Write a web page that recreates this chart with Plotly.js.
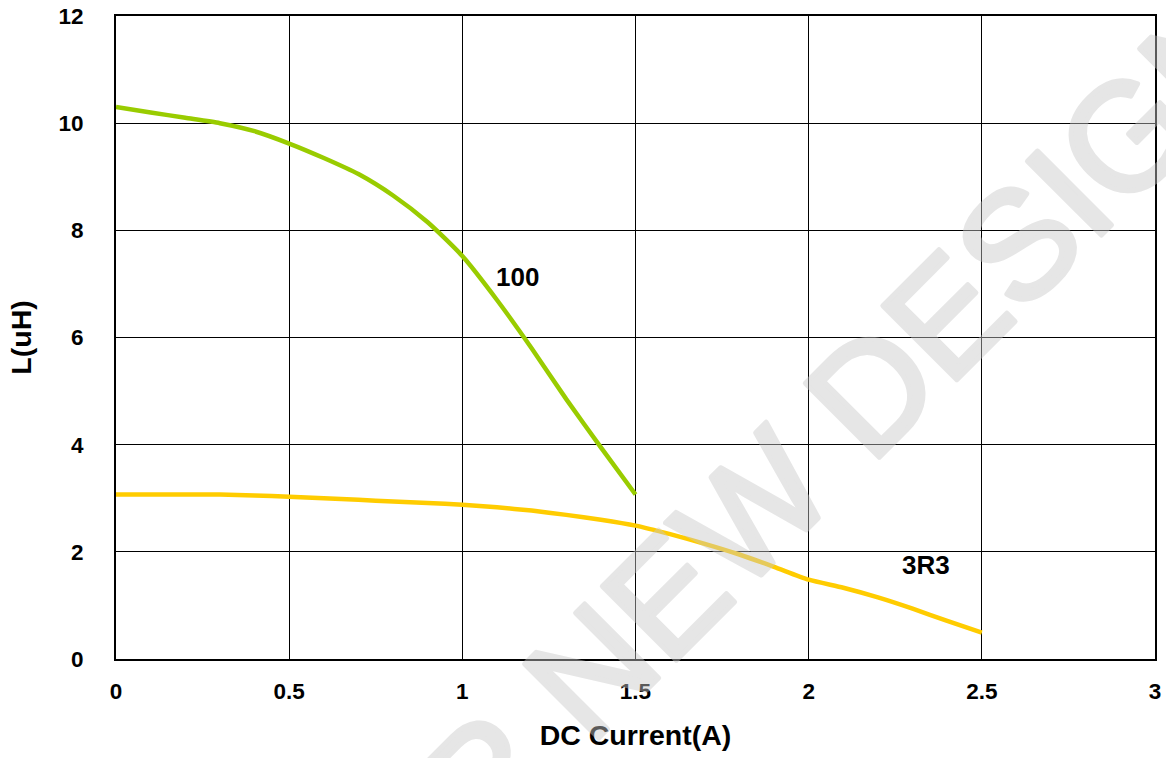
<!DOCTYPE html>
<html>
<head>
<meta charset="utf-8">
<script src="https://cdn.plot.ly/plotly-3.0.1.min.js"></script>
<style>
html,body{margin:0;padding:0;background:#fff;}
#chart{width:1166px;height:758px;}
#chart g.annotation[data-index="2"] text{stroke:#c8c8c8;stroke-width:5px;stroke-linejoin:round;stroke-linecap:round;}
</style>
</head>
<body>
<div id="chart"></div>
<script>
// Data
const current100 = [0, 0.1, 0.2, 0.3, 0.4, 0.5, 0.6, 0.7, 0.8, 0.9, 1.0, 1.1, 1.2, 1.3, 1.4, 1.5];
const induct100  = [10.30, 10.20, 10.10, 10.00, 9.85, 9.62, 9.35, 9.05, 8.65, 8.15, 7.52, 6.70, 5.80, 4.85, 3.95, 3.07];

const current3R3 = [0, 0.1, 0.2, 0.3, 0.4, 0.5, 0.6, 0.7, 0.8, 0.9, 1.0, 1.1, 1.2, 1.3, 1.4, 1.5, 1.6, 1.7, 1.8, 1.9, 2.0, 2.1, 2.2, 2.3, 2.4, 2.5];
const induct3R3  = [3.07, 3.07, 3.07, 3.07, 3.05, 3.03, 3.00, 2.97, 2.94, 2.91, 2.88, 2.83, 2.77, 2.69, 2.60, 2.49, 2.33, 2.15, 1.95, 1.72, 1.48, 1.33, 1.15, 0.94, 0.71, 0.49];

const seriesNames = ["100", "3R3"];
const xTickVals = [0, 0.5, 1, 1.5, 2, 2.5, 3];
const xTickText = ["0", "0.5", "1", "1.5", "2", "2.5", "3"];
const yTickVals = [0, 2, 4, 6, 8, 10, 12];
const yTickText = ["0", "2", "4", "6", "8", "10", "12"];
const xTitle = "DC Current(A)";
const yTitle = "L(uH)";
const watermarkText = "FOR NEW DESIGN";

const FONT = "Liberation Sans, Arial, Helvetica, sans-serif";

const traces = [
  {x: current100, y: induct100, name: seriesNames[0], mode: "lines",
   line: {color: "#99cc00", width: 4.5, shape: "spline", smoothing: 0.6}},
  {x: current3R3, y: induct3R3, name: seriesNames[1], mode: "lines",
   line: {color: "#ffcc00", width: 4.5, shape: "spline", smoothing: 0.6}}
];

const layout = {
  width: 1166, height: 758,
  margin: {l: 116, r: 11, t: 16, b: 98.5},
  paper_bgcolor: "#ffffff", plot_bgcolor: "#ffffff",
  showlegend: false,
  font: {family: FONT, color: "#000"},
  xaxis: {
    range: [0, 3], tickvals: xTickVals, ticktext: xTickText,
    showgrid: true, gridcolor: "#000", gridwidth: 1,
    showline: true, linecolor: "#000", linewidth: 2, mirror: true,
    zeroline: false, ticks: "", ticklabelstandoff: 11,
    tickfont: {family: FONT, size: 22.5, weight: "bold", color: "#000"},
    title: {text: xTitle, standoff: 22, font: {family: FONT, size: 28.5, weight: "bold", color: "#000"}},
    automargin: false
  },
  yaxis: {
    range: [0, 12], tickvals: yTickVals, ticktext: yTickText,
    showgrid: true, gridcolor: "#000", gridwidth: 1,
    showline: true, linecolor: "#000", linewidth: 2, mirror: true,
    zeroline: false, ticks: "", ticklabelstandoff: 26,
    tickfont: {family: FONT, size: 22.5, weight: "bold", color: "#000"},
    title: {text: yTitle, standoff: 18, font: {family: FONT, size: 28.5, weight: "bold", color: "#000"}},
    automargin: false
  },
  annotations: [
    {x: 1.158, y: 7.12, xref: "x", yref: "y", text: seriesNames[0], showarrow: false,
     font: {family: FONT, size: 26, weight: "bold", color: "#000"}},
    {x: 2.339, y: 1.75, xref: "x", yref: "y", text: seriesNames[1], showarrow: false,
     font: {family: FONT, size: 26, weight: "bold", color: "#000"}},
    {x: 0.630, y: 0.261, xref: "paper", yref: "paper", text: watermarkText, showarrow: false,
     textangle: -45, xanchor: "center", yanchor: "middle", opacity: 0.45,
     font: {family: FONT, size: 152, weight: "normal", color: "#c8c8c8"}}
  ]
};

Plotly.newPlot("chart", traces, layout, {displayModeBar: false, staticPlot: true});
</script>
</body>
</html>
